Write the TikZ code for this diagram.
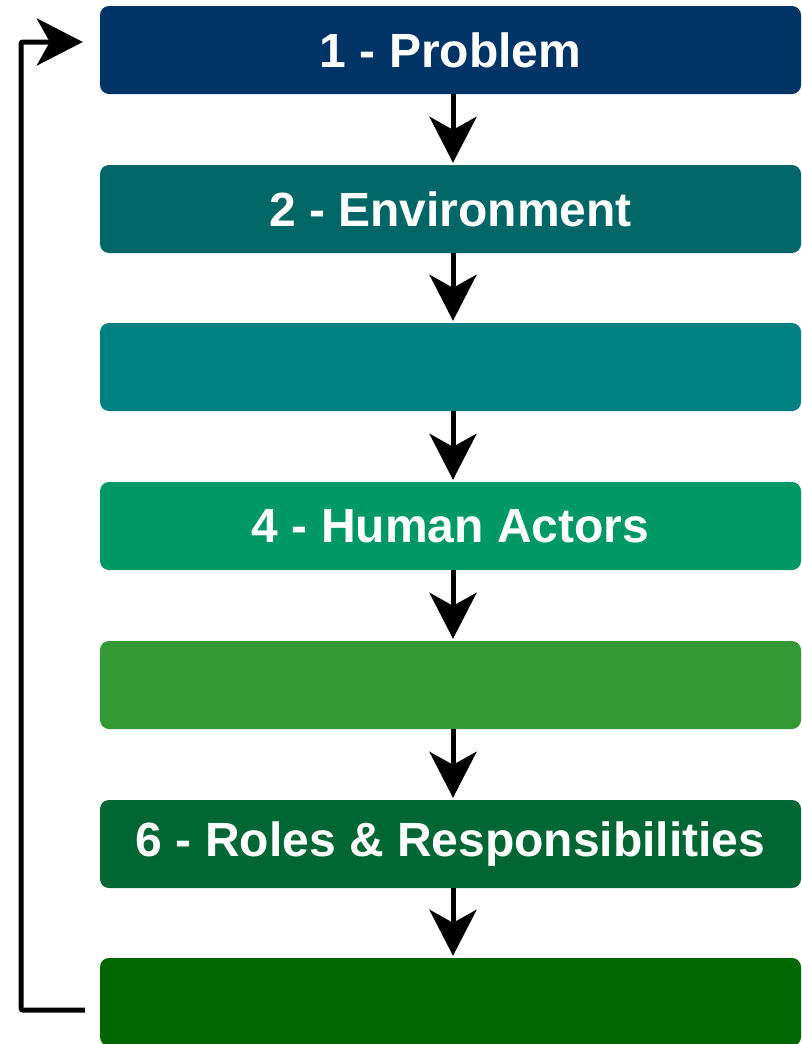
\documentclass[tikz,border=0pt]{standalone}
\usepackage{fontspec}
\setmainfont{Liberation Sans}
\usetikzlibrary{arrows.meta}

\definecolor{stepA}{RGB}{0,51,102}
\definecolor{stepB}{RGB}{0,102,102}
\definecolor{stepC}{RGB}{0,128,128}
\definecolor{stepD}{RGB}{0,153,102}
\definecolor{stepE}{RGB}{51,153,51}
\definecolor{stepF}{RGB}{0,102,51}
\definecolor{stepG}{RGB}{0,102,0}

\tikzset{
    phase/.style={rectangle, rounded corners=9pt, minimum width=701pt, minimum height=88pt,
        inner sep=0pt, text=white, font=\fontsize{48}{56}\selectfont\bfseries},
    flow/.style={line width=5pt, -{Stealth[length=46pt, width=47pt, inset=13pt]}}
}

\begin{document}
\begin{tikzpicture}[x=1pt, y=-1pt]
    \clip (0,0) rectangle (802,1044);
    \fill[white] (0,0) rectangle (802,1044);

    % Steps
    \node[phase, fill=stepA] (p1) at (450.5,50) {1 - Problem};
    \node[phase, fill=stepB] (p2) at (450.5,209) {2 - Environment};
    \node[phase, fill=stepC] (p3) at (450.5,367) {};
    \node[phase, fill=stepD] (p4) at (450.5,526) {4 - Human Actors};
    \node[phase, fill=stepE] (p5) at (450.5,685) {};
    \node[phase, fill=stepF] (p6) at (450.5,844) {6 - Roles \& Responsibilities};
    \node[phase, fill=stepG] (p7) at (450.5,1002) {};

    % Arrows between steps
    \foreach \a/\b in {p1/p2, p2/p3, p3/p4, p4/p5, p5/p6, p6/p7}
        \draw[flow] ([xshift=2.5pt]\a.south) -- ([xshift=2.5pt,yshift=2pt]\b.north);

    % Back to the start
    \coordinate (loop) at (21,42);
    \draw[flow, rounded corners=2pt] ([xshift=-15pt,yshift=-8pt]p7.west) -| (loop) -- ([xshift=-17pt,yshift=8pt]p1.west);
\end{tikzpicture}
\end{document}
